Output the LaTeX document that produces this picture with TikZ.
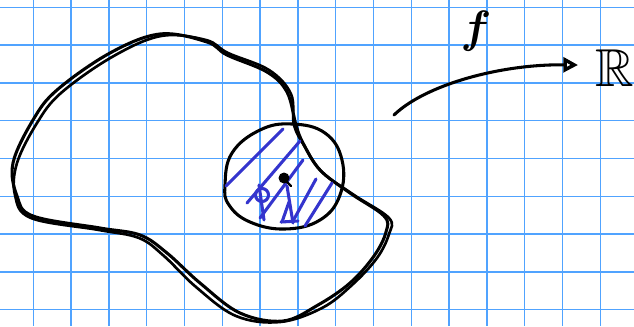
\documentclass[tikz,border=0pt]{standalone}
\usepackage{amssymb}
\usepackage{bm}
\usetikzlibrary{arrows.meta}
\definecolor{gridblue}{RGB}{80,163,255}
\definecolor{hatch}{RGB}{52,52,205}
\tikzset{
  gridline/.style={gridblue,line width=1.1pt},
  pen/.style={black,line width=2.3pt,line cap=round,line join=round},
  bluepen/.style={hatch,line width=2.3pt,line cap=round,line join=round},
  lbl/.style={inner sep=0pt}
}
\begin{document}
\begin{tikzpicture}[x=0.75pt,y=-0.75pt]
\useasboundingbox (0,0) rectangle (634,326);
\fill[white] (0,0) rectangle (634,326);
% grid
\foreach \k in {0,...,15}{\draw[gridline] ({33.3+37.8*\k},0) -- ({33.3+37.8*\k},326);}
\foreach \k in {0,...,8}{\draw[gridline] (0,{7.3+37.8*\k}) -- (634,{7.3+37.8*\k});}
% blob, drawn twice
\draw[pen] plot[smooth cycle,tension=0.6] coordinates {(13,163) (33,120) (57,90) (110,53) (160,34) (207,42) (227,55) (267,72) (287,92) (296,125) (303,143) (320,170) (350,193) (384,216) (386,232) (374,256) (350,283) (318,305) (283,321) (240,313) (200,283) (167,253) (140,235) (100,228) (33,216) (17,196)};
\draw[pen,line width=2pt] plot[smooth cycle,tension=0.6] coordinates {(17,163) (37,123) (61,93) (112,57) (161,36) (206,40) (228,53) (269,70) (291,94) (294,125) (305,147) (322,172) (354,195) (389,218) (389,234) (377,258) (352,285) (322,308) (280,322) (236,316) (196,287) (164,256) (139,238) (99,230) (31,218) (15,195)};
% small disc
\draw[pen] plot[smooth cycle,tension=0.7] coordinates {(225,185) (232,153) (260,130) (292,124) (325,133) (342,160) (340,195) (320,220) (285,229) (250,222) (229,205)};
% hatching
\draw[bluepen] (226,186) -- (283,129);
\draw[bluepen] (247,203) -- (300,141);
\draw[bluepen] (260,218) -- (303,160);
\draw[bluepen] (293,221) -- (316,179);
\draw[bluepen] (305,226) -- (332,183);
% scribbled letters
\draw[bluepen] (262,195) circle (6.5);
\draw[bluepen] (259,185) -- (264,220);
\draw[bluepen] (287,186) -- (293,223);
\draw[bluepen] (282,222) -- (289,202);
\draw[bluepen] (281,222) -- (298,221);
% centre point
\fill (284,178) circle (5.5);
\draw[pen,line width=1.8pt] (285,180) -- (291,186);
% map arrow
\coordinate (a0) at (394,115);
\coordinate (a1) at (578,65);
\draw[pen,-{Triangle[open,length=11pt,width=11pt,line width=2.6pt]}] (a0) .. controls (425,85) and (500,64) .. (a1);
\node[lbl,scale=3.4] (f) at (476,31) {$\bm{f}$};
\node[lbl,scale=4.0] (R) at (614.5,68) {$\mathbb{R}$};
\end{tikzpicture}
\end{document}
